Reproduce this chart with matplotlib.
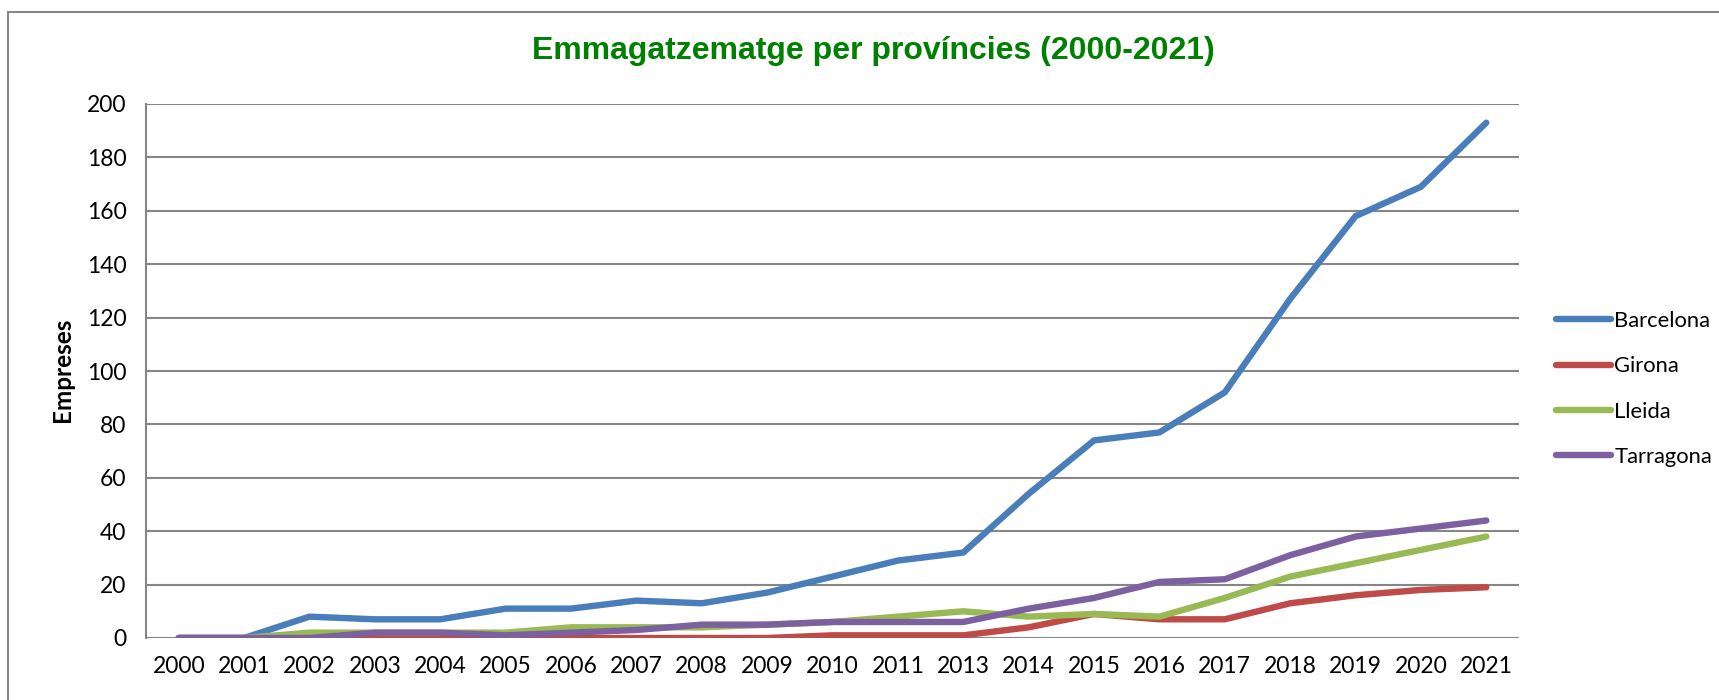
import matplotlib
matplotlib.use("Agg")
import matplotlib.pyplot as plt
from matplotlib.patches import Rectangle

years = ["2000", "2001", "2002", "2003", "2004", "2005", "2006", "2007", "2008", "2009",
         "2010", "2011", "2013", "2014", "2015", "2016", "2017", "2018", "2019", "2020", "2021"]
barcelona = [0, 0, 8, 7, 7, 11, 11, 14, 13, 17, 23, 29, 32, 54, 74, 77, 92, 127, 158, 169, 193]
girona = [0, 0, 0, 0, 0, 0, 0, 0, 0, 0, 1, 1, 1, 4, 9, 7, 7, 13, 16, 18, 19]
lleida = [0, 0, 2, 2, 2, 2, 4, 4, 4, 5, 6, 8, 10, 8, 9, 8, 15, 23, 28, 33, 38]
tarragona = [0, 0, 0, 2, 2, 1, 2, 3, 5, 5, 6, 6, 6, 11, 15, 21, 22, 31, 38, 41, 44]

series = [("Barcelona", barcelona, "#4A7EBB"),
          ("Girona", girona, "#BE4B48"),
          ("Lleida", lleida, "#98B954"),
          ("Tarragona", tarragona, "#7D60A0")]

plt.rcParams['font.family'] = ['Lato', 'DejaVu Sans']

W, H = 1719, 700
fig = plt.figure(figsize=(W / 100, H / 100), dpi=100)
ax = fig.add_axes([146 / W, 1 - 638 / H, (1519 - 146) / W, (638 - 104) / H])

x = list(range(len(years)))
for name, vals, col in series:
    ax.plot(x, vals, color=col, lw=4.6, label=name, solid_capstyle='round', solid_joinstyle='round')

ax.set_xlim(-0.5, len(years) - 0.5)
ax.set_ylim(0, 200)
ax.set_yticks(range(0, 201, 20))
ax.set_xticks(x)
ax.set_xticklabels(years)
ax.tick_params(axis='both', length=0, labelsize=16.5, colors='black')
ax.tick_params(axis='y', pad=14)
ax.tick_params(axis='x', pad=13)
ax.grid(axis='y', color='#868686', lw=1.5)
ax.set_axisbelow(True)
for s in ['top', 'right', 'bottom']:
    ax.spines[s].set_visible(False)
ax.spines['left'].set_color('#868686')
ax.spines['left'].set_linewidth(1.5)

fig.text(62 / W, 1 - 370 / H, "Empreses", rotation=90, fontsize=17.5, fontweight='bold',
         ha='center', va='center')
fig.text(873 / W, 1 - 51 / H, "Emmagatzematge per províncies (2000-2021)",
         fontsize=23, fontweight='bold', color='#008000', ha='center', va='center',
         family=['Liberation Sans', 'DejaVu Sans'])

ax.legend(loc='center left', bbox_to_anchor=(1556 / W, 1 - 389 / H), bbox_transform=fig.transFigure,
          frameon=False, fontsize=15.8, handlelength=2.5, handletextpad=0.15, labelspacing=1.15,
          borderpad=0, borderaxespad=0)

fig.patches.append(Rectangle((8 / W, -0.1), 1.5, 1 - 12 / H + 0.1, transform=fig.transFigure,
                             fill=False, edgecolor='#878787', lw=1.5))

fig.savefig("out.png", dpi=100)
